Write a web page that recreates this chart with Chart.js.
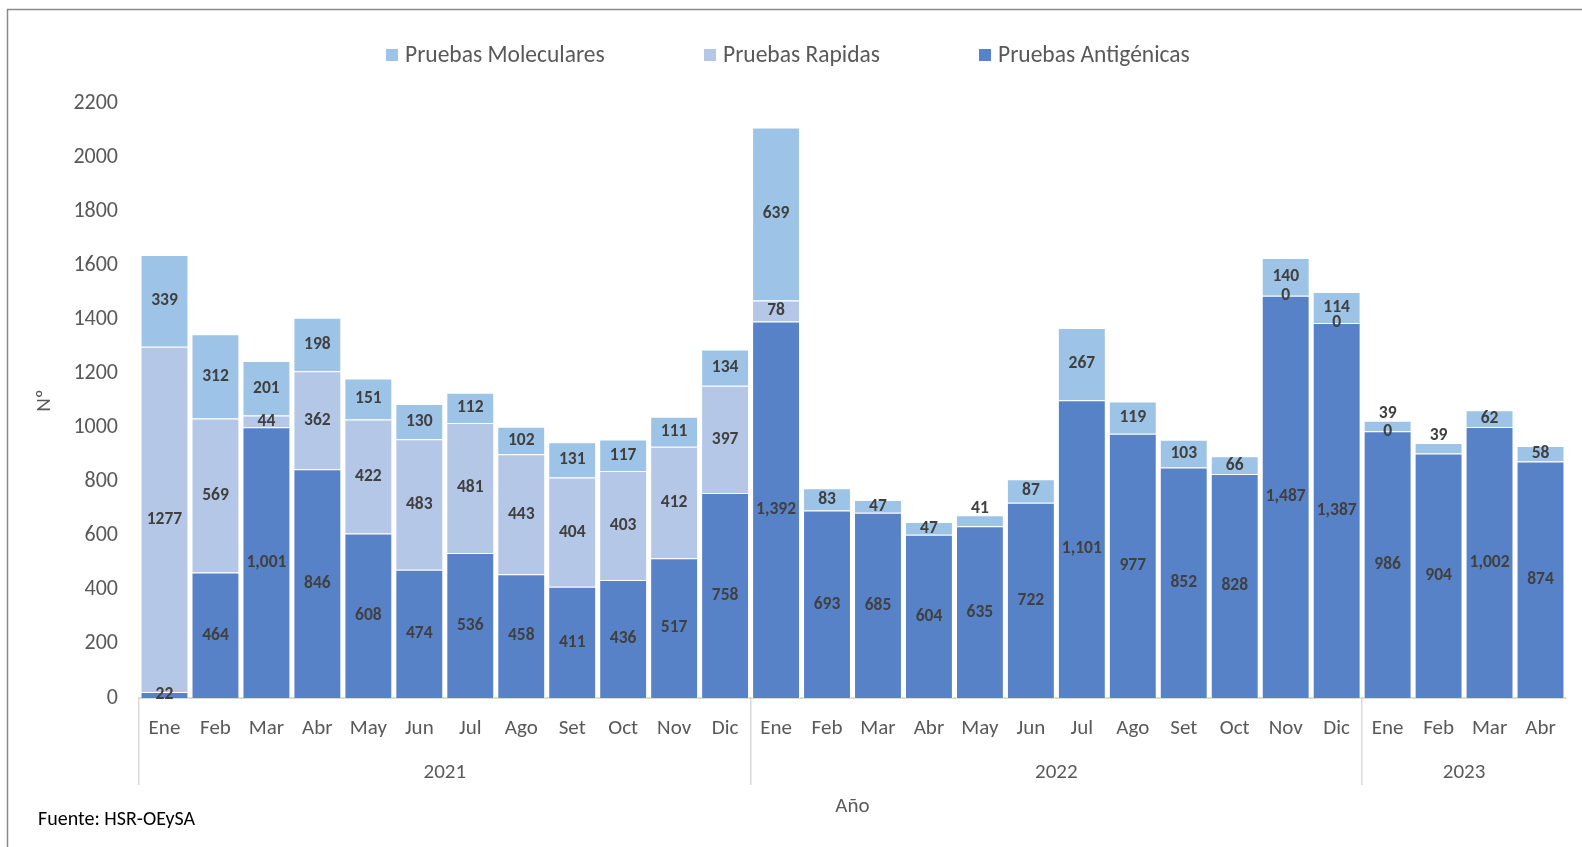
<!DOCTYPE html>
<html lang="es">
<head>
<meta charset="UTF-8">
<title>Pruebas por mes</title>
<script src="https://cdn.jsdelivr.net/npm/chart.js@4.4.0/dist/chart.umd.min.js"></script>
<style>
    html, body { margin: 0; padding: 0; background: #fff; overflow: hidden; }
    #wrap { width: 1582px; height: 847px; }
</style>
</head>
<body>
<div id="wrap"><canvas id="chart" width="1582" height="847"></canvas></div>
<script>
// months on the x axis, grouped by year
const months = ['Ene', 'Feb', 'Mar', 'Abr', 'May', 'Jun', 'Jul', 'Ago', 'Set', 'Oct', 'Nov', 'Dic',
                'Ene', 'Feb', 'Mar', 'Abr', 'May', 'Jun', 'Jul', 'Ago', 'Set', 'Oct', 'Nov', 'Dic',
                'Ene', 'Feb', 'Mar', 'Abr'];
const years = ['2021', '2022', '2023'];
const monthsPerYear = [12, 12, 4];

const antigenicas = [22, 464, 1001, 846, 608, 474, 536, 458, 411, 436, 517, 758,
                     1392, 693, 685, 604, 635, 722, 1101, 977, 852, 828, 1487, 1387,
                     986, 904, 1002, 874];
const rapidas = [1277, 569, 44, 362, 422, 483, 481, 443, 404, 403, 412, 397,
                 78, null, null, null, null, null, null, null, null, null, 0, 0,
                 0, null, null, null];
const moleculares = [339, 312, 201, 198, 151, 130, 112, 102, 131, 117, 111, 134,
                     639, 83, 47, 47, 41, 87, 267, 119, 103, 66, 140, 114,
                     39, 39, 62, 58];

const FONT = 'Calibri, Carlito, Lato, sans-serif';
const GREY = '#595959';

// year group centres and boundaries, in category index units
const yearCenters = [];
const yearBounds = [0];
let start = 0;
monthsPerYear.forEach(n => {
    yearCenters.push(start + (n - 1) / 2);
    start += n;
    yearBounds.push(start);
});

Chart.defaults.font.family = FONT;
Chart.defaults.color = GREY;

// frame line along the top and left side, plus the source note
const frame = {
    id: 'frame',
    beforeDraw(chart) {
        const ctx = chart.ctx;
        ctx.save();
        ctx.strokeStyle = '#8a8a8a';
        ctx.lineWidth = 1.5;
        ctx.beginPath();
        ctx.moveTo(7.5, chart.height);
        ctx.lineTo(7.5, 9.5);
        ctx.lineTo(chart.width, 9.5);
        ctx.stroke();
        ctx.restore();
    },
    afterDraw(chart) {
        const ctx = chart.ctx;
        ctx.save();
        ctx.font = '20px ' + FONT;
        ctx.fillStyle = '#000';
        ctx.textBaseline = 'middle';
        ctx.fillText('Fuente: HSR-OEySA', 38, 820);
        ctx.restore();
    }
};

// legend drawn by hand: Excel spaces the items far apart
const topLegend = {
    id: 'topLegend',
    afterDraw(chart) {
        const ctx = chart.ctx;
        const order = [2, 1, 0];
        const xs = [386, 704, 979];
        ctx.save();
        ctx.font = '23.5px ' + FONT;
        ctx.textBaseline = 'middle';
        order.forEach((di, k) => {
            const ds = chart.data.datasets[di];
            ctx.fillStyle = ds.backgroundColor;
            ctx.fillRect(xs[k], 49, 12, 12);
            ctx.fillStyle = GREY;
            ctx.fillText(ds.label, xs[k] + 19, 56);
        });
        ctx.restore();
    }
};

// numbers inside each stacked segment
const valueLabels = {
    id: 'valueLabels',
    afterDatasetsDraw(chart) {
        const ctx = chart.ctx;
        ctx.save();
        ctx.font = 'bold 17.5px ' + FONT;
        ctx.fillStyle = '#404040';
        ctx.textAlign = 'center';
        ctx.textBaseline = 'middle';
        chart.data.datasets.forEach((ds, di) => {
            chart.getDatasetMeta(di).data.forEach((bar, i) => {
                const v = ds.data[i];
                if (v === null || v === undefined) return;
                let y = (bar.y + bar.base) / 2;
                if (di === 2 && bar.base - bar.y < 12) y = bar.y - 7;
                const text = di === 0 ? v.toLocaleString('en-US') : String(v);
                ctx.fillText(text, bar.x, y);
            });
        });
        ctx.restore();
    }
};

new Chart(document.getElementById('chart'), {
    type: 'bar',
    data: {
        labels: months,
        datasets: [
            { label: 'Pruebas Antigénicas', data: antigenicas, backgroundColor: '#5882C8' },
            { label: 'Pruebas Rapidas', data: rapidas, backgroundColor: '#B4C7E7' },
            { label: 'Pruebas Moleculares', data: moleculares, backgroundColor: '#9DC3E6' }
        ]
    },
    options: {
        responsive: false,
        animation: false,
        layout: { padding: { left: 0, top: 103, right: 16, bottom: 0 } },
        datasets: {
            bar: {
                barPercentage: 0.94,
                categoryPercentage: 1.0,
                borderColor: '#ffffff',
                borderWidth: 1
            }
        },
        plugins: {
            legend: { display: false },
            tooltip: { enabled: false }
        },
        scales: {
            x: {
                stacked: true,
                grid: {
                    offset: true,
                    drawOnChartArea: false,
                    drawTicks: true,
                    tickLength: 87,
                    lineWidth: 1.5,
                    color: ctx => yearBounds.includes(ctx.index) ? '#D9D9D9' : 'rgba(0,0,0,0)'
                },
                border: { display: true, color: '#D9D9D9', width: 2 },
                ticks: {
                    font: { size: 21 },
                    color: GREY,
                    padding: -69,
                    autoSkip: false,
                    maxRotation: 0
                },
                afterFit: s => { s.height = 50; }
            },
            x2: {
                type: 'linear',
                position: 'bottom',
                offset: false,
                bounds: 'data',
                min: -0.5,
                max: months.length - 0.5,
                grid: { display: false, drawTicks: false },
                border: { display: false },
                afterBuildTicks: s => { s.ticks = yearCenters.map(v => ({ value: v })); },
                ticks: {
                    callback: (v, i) => years[i],
                    font: { size: 21 },
                    color: GREY,
                    padding: 12,
                    autoSkip: false,
                    maxRotation: 0
                },
                title: {
                    display: true,
                    text: 'Año',
                    font: { size: 21 },
                    color: GREY,
                    padding: { top: 0, bottom: 28 }
                },
                afterFit: s => { s.height = 99; }
            },
            y: {
                stacked: true,
                min: 0,
                max: 2200,
                grid: { display: false, drawTicks: false },
                border: { display: false },
                ticks: {
                    stepSize: 200,
                    callback: v => String(v),
                    font: { size: 22 },
                    color: GREY,
                    padding: 21
                },
                title: {
                    display: true,
                    text: 'Nº',
                    font: { size: 21 },
                    color: GREY,
                    padding: { top: 32, bottom: 0 }
                },
                afterFit: s => { s.width = 139; }
            }
        }
    },
    plugins: [frame, topLegend, valueLabels]
});
</script>
</body>
</html>
